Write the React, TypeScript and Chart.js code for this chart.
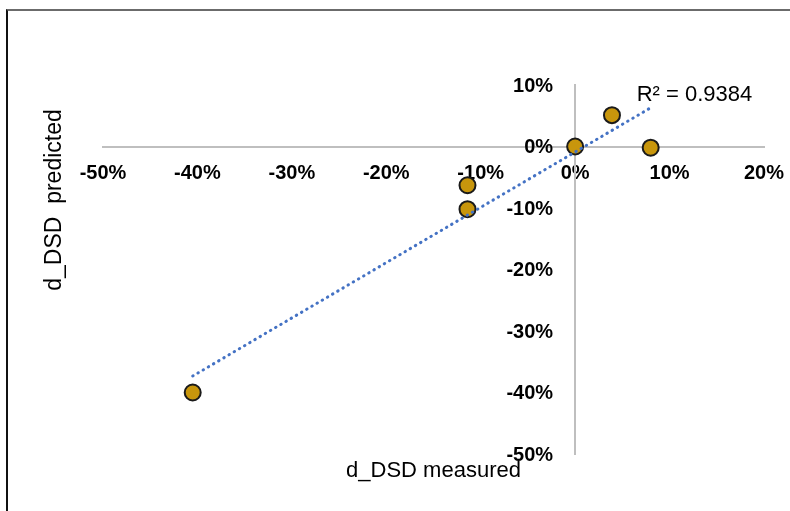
import React, { useEffect, useRef } from "react";
import { Chart, registerables } from "chart.js";

Chart.register(...registerables);

// ---- data ----
const measured = [-0.405, -0.114, -0.114, 0.0, 0.039, 0.08];
const predicted = [-0.4, -0.063, -0.102, 0.0, 0.051, -0.002];
const xMin = -0.5;
const xMax = 0.2;
const yMin = -0.5;
const yMax = 0.1;
const tickStep = 0.1;
const r2Label = "R\u00b2 = 0.9384";
const xTitle = "d_DSD measured";
const yTitle = "d_DSD  predicted";

const FONT = '"Liberation Sans", Arial, Helvetica, sans-serif';
const pct = (v: number) => `${Math.round(v * 100)}%`;

function linearFit(xs: number[], ys: number[]) {
  const n = xs.length;
  const mx = xs.reduce((a, b) => a + b, 0) / n;
  const my = ys.reduce((a, b) => a + b, 0) / n;
  let sxy = 0;
  let sxx = 0;
  for (let i = 0; i < n; i++) {
    sxy += (xs[i] - mx) * (ys[i] - my);
    sxx += (xs[i] - mx) * (xs[i] - mx);
  }
  const slope = sxy / sxx;
  return { slope, intercept: my - slope * mx };
}

const noPad = (s: any) => {
  s.paddingLeft = 0;
  s.paddingRight = 0;
  s.paddingTop = 0;
  s.paddingBottom = 0;
};

export default function App() {
  const ref = useRef<HTMLCanvasElement | null>(null);

  useEffect(() => {
    if (!ref.current) return;
    const fit = linearFit(measured, predicted);
    const lo = Math.min(...measured);
    const hi = Math.max(...measured);
    const trend = [
      { x: lo, y: fit.slope * lo + fit.intercept },
      { x: hi, y: fit.slope * hi + fit.intercept },
    ];
    const points = measured.map((m, i) => ({ x: m, y: predicted[i] }));

    const overlay = {
      id: "overlay",
      beforeDatasetsDraw(chart: any) {
        const { ctx, scales } = chart;
        const xs = scales.x;
        const ys = scales.y;
        ctx.save();
        ctx.font = `bold 20px ${FONT}`;
        ctx.fillStyle = "#000";
        ctx.textAlign = "right";
        ctx.textBaseline = "middle";
        const x0 = xs.getPixelForValue(0);
        ys.ticks.forEach((t: any) => {
          ctx.fillText(pct(t.value), x0 - 22, ys.getPixelForValue(t.value) + 1);
        });
        ctx.restore();
      },
      afterDraw(chart: any) {
        const { ctx, chartArea, scales } = chart;
        const xs = scales.x;
        const ys = scales.y;
        ctx.save();
        ctx.fillStyle = "#000";
        ctx.font = `22px ${FONT}`;
        // R² label near trendline end
        const ex = xs.getPixelForValue(trend[1].x);
        const ey = ys.getPixelForValue(trend[1].y);
        ctx.textAlign = "left";
        ctx.textBaseline = "alphabetic";
        ctx.fillText(r2Label, ex - 14, ey - 7);
        // x title
        ctx.textAlign = "center";
        ctx.textBaseline = "middle";
        ctx.fillText(xTitle, (chartArea.left + chartArea.right) / 2, chartArea.bottom + 17);
        // y title
        ctx.font = `23px ${FONT}`;
        ctx.translate(55, 200);
        ctx.rotate(-Math.PI / 2);
        ctx.fillText(yTitle, 0, 0);
        ctx.restore();
      },
    };

    const chart = new Chart(ref.current, {
      type: "scatter",
      data: {
        datasets: [
          {
            type: "line",
            label: "trend",
            data: trend,
            borderColor: "#4472C4",
            borderWidth: 3,
            borderDash: [0.5, 5.5],
            borderCapStyle: "round",
            pointRadius: 0,
            fill: false,
            order: 0,
          } as any,
          {
            label: "d_DSD",
            data: points,
            backgroundColor: "#C8960C",
            borderColor: "#1a1a1a",
            borderWidth: 2,
            pointRadius: 8,
            pointHoverRadius: 8,
            order: 1,
          },
        ],
      },
      options: {
        responsive: false,
        animation: false,
        events: [],
        layout: { padding: { left: 103, right: 26, top: 85, bottom: 57 } },
        plugins: { legend: { display: false }, tooltip: { enabled: false } },
        scales: {
          x: {
            type: "linear",
            position: { y: 0 } as any,
            min: xMin,
            max: xMax,
            afterFit: noPad,
            grid: { display: false, drawTicks: false },
            border: { display: true, color: "#BFBFBF", width: 2 },
            ticks: {
              stepSize: tickStep,
              padding: 15,
              color: "#000",
              font: { family: FONT, size: 20, weight: "bold" },
              callback: (v: any) => pct(Number(v)),
              maxRotation: 0,
            },
          },
          y: {
            type: "linear",
            position: { x: 0 } as any,
            min: yMin,
            max: yMax,
            afterFit: noPad,
            grid: { display: false, drawTicks: false },
            border: { display: true, color: "#BFBFBF", width: 2 },
            ticks: {
              stepSize: tickStep,
              display: false,
            },
          },
        },
      },
      plugins: [overlay],
    });
    return () => chart.destroy();
  }, []);

  return (
    <div
      style={{
        position: "fixed",
        left: 0,
        top: 0,
        width: 790,
        height: 511,
        background: "#fff",
        overflow: "hidden",
      }}
    >
      <div
        style={{
          position: "absolute",
          left: 6,
          top: 9,
          width: 800,
          height: 520,
          borderTop: "2px solid #6b6b6b",
          borderLeft: "2px solid #111",
        }}
      />
      <canvas
        ref={ref}
        width={790}
        height={511}
        style={{ position: "absolute", left: 0, top: 0, width: 790, height: 511 }}
      />
    </div>
  );
}
